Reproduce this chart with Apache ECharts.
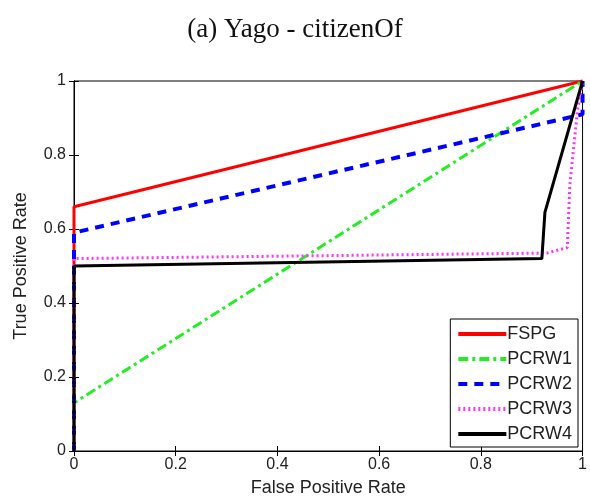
<!DOCTYPE html>
<html>
<head>
<meta charset="utf-8">
<script src="https://cdn.jsdelivr.net/npm/echarts@6/dist/echarts.min.js"></script>
<style>
  html, body { margin: 0; padding: 0; background: #fff; }
  #chart { width: 590px; height: 502px; }
</style>
</head>
<body>
<div id="chart"></div>
<script>
// ROC points, [fpr, tpr]
var fspg = [[0, 0], [0, 0.66], [1, 1]]
var pcrw1 = [[0, 0], [0, 0.13], [1, 1]]
var pcrw2 = [[0, 0], [0, 0.59], [1, 0.91], [1, 1]]
var pcrw3 = [[0, 0], [0, 0.52], [0.93, 0.535], [0.97, 0.55], [0.975, 0.72], [0.99, 0.92], [1, 1]]
var pcrw4 = [[0, 0], [0, 0.5], [0.92, 0.52], [0.926, 0.645], [1, 1]]
var seriesNames = ['FSPG', 'PCRW1', 'PCRW2', 'PCRW3', 'PCRW4']

var chart = echarts.init(document.getElementById('chart'))

function mkLine(name, data, color, width, type) {
  return {
    name: name,
    type: 'line',
    data: data,
    symbol: 'none',
    clip: false,
    lineStyle: { color: color, width: width, type: type },
    itemStyle: { color: color }
  }
}

var tickFont = { color: '#222', fontSize: 16, fontFamily: 'Liberation Sans, Arial' }

chart.setOption({
  animation: false,
  title: {
    text: '(a) Yago - citizenOf',
    left: 'center',
    top: 11,
    textStyle: { fontFamily: 'Liberation Serif, Times New Roman', fontSize: 27, fontWeight: 'normal', color: '#111' }
  },
  grid: { left: 74, right: 3, top: 81, bottom: 50, show: true, borderColor: '#000', borderWidth: 1 },
  legend: {
    data: seriesNames,
    orient: 'vertical',
    right: 12,
    bottom: 55,
    itemWidth: 48,
    itemHeight: 14,
    itemGap: 7,
    padding: [6, 6, 4, 6],
    borderColor: '#000',
    borderWidth: 1,
    backgroundColor: '#fff',
    itemStyle: { opacity: 0 },
    lineStyle: { width: 4 },
    textStyle: { fontSize: 18, color: '#222', fontFamily: 'Liberation Sans, Arial', padding: [0, 0, 0, -4] }
  },
  xAxis: [
    {
      type: 'value', min: 0, max: 1, interval: 0.2,
      name: 'False Positive Rate', nameLocation: 'middle', nameGap: 28,
      nameTextStyle: { fontSize: 18, color: '#222', fontFamily: 'Liberation Sans, Arial' },
      axisLine: { lineStyle: { color: '#000', width: 1 } },
      axisTick: { inside: true, length: 5, lineStyle: { color: '#000' } },
      axisLabel: Object.assign({ margin: 6 }, tickFont),
      splitLine: { show: false }
    },
    {
      type: 'value', min: 0, max: 1, interval: 0.2, position: 'top',
      axisLine: { lineStyle: { color: '#000' } },
      axisTick: { inside: true, length: 5, lineStyle: { color: '#000' } },
      axisLabel: { show: false },
      splitLine: { show: false }
    }
  ],
  yAxis: [
    {
      type: 'value', min: 0, max: 1, interval: 0.2,
      name: 'True Positive Rate', nameLocation: 'middle', nameGap: 44,
      nameTextStyle: { fontSize: 18, color: '#222', fontFamily: 'Liberation Sans, Arial' },
      axisLine: { show: true, lineStyle: { color: '#000', width: 1 } },
      axisTick: { show: true, inside: true, length: 5, lineStyle: { color: '#000' } },
      axisLabel: Object.assign({ margin: 8 }, tickFont),
      splitLine: { show: false }
    },
    {
      type: 'value', min: 0, max: 1, interval: 0.2, position: 'right',
      axisLine: { show: true, lineStyle: { color: '#000' } },
      axisTick: { show: true, inside: true, length: 5, lineStyle: { color: '#000' } },
      axisLabel: { show: false },
      splitLine: { show: false }
    }
  ],
  series: [
    mkLine('FSPG', fspg, '#ff0000', 3, 'solid'),
    mkLine('PCRW1', pcrw1, '#22ee22', 3, [10, 4, 3, 4]),
    mkLine('PCRW2', pcrw2, '#0000ff', 4, [9, 7]),
    mkLine('PCRW3', pcrw3, '#ff33ff', 3, [2, 3]),
    mkLine('PCRW4', pcrw4, '#000000', 3, 'solid')
  ]
})
</script>
</body>
</html>
